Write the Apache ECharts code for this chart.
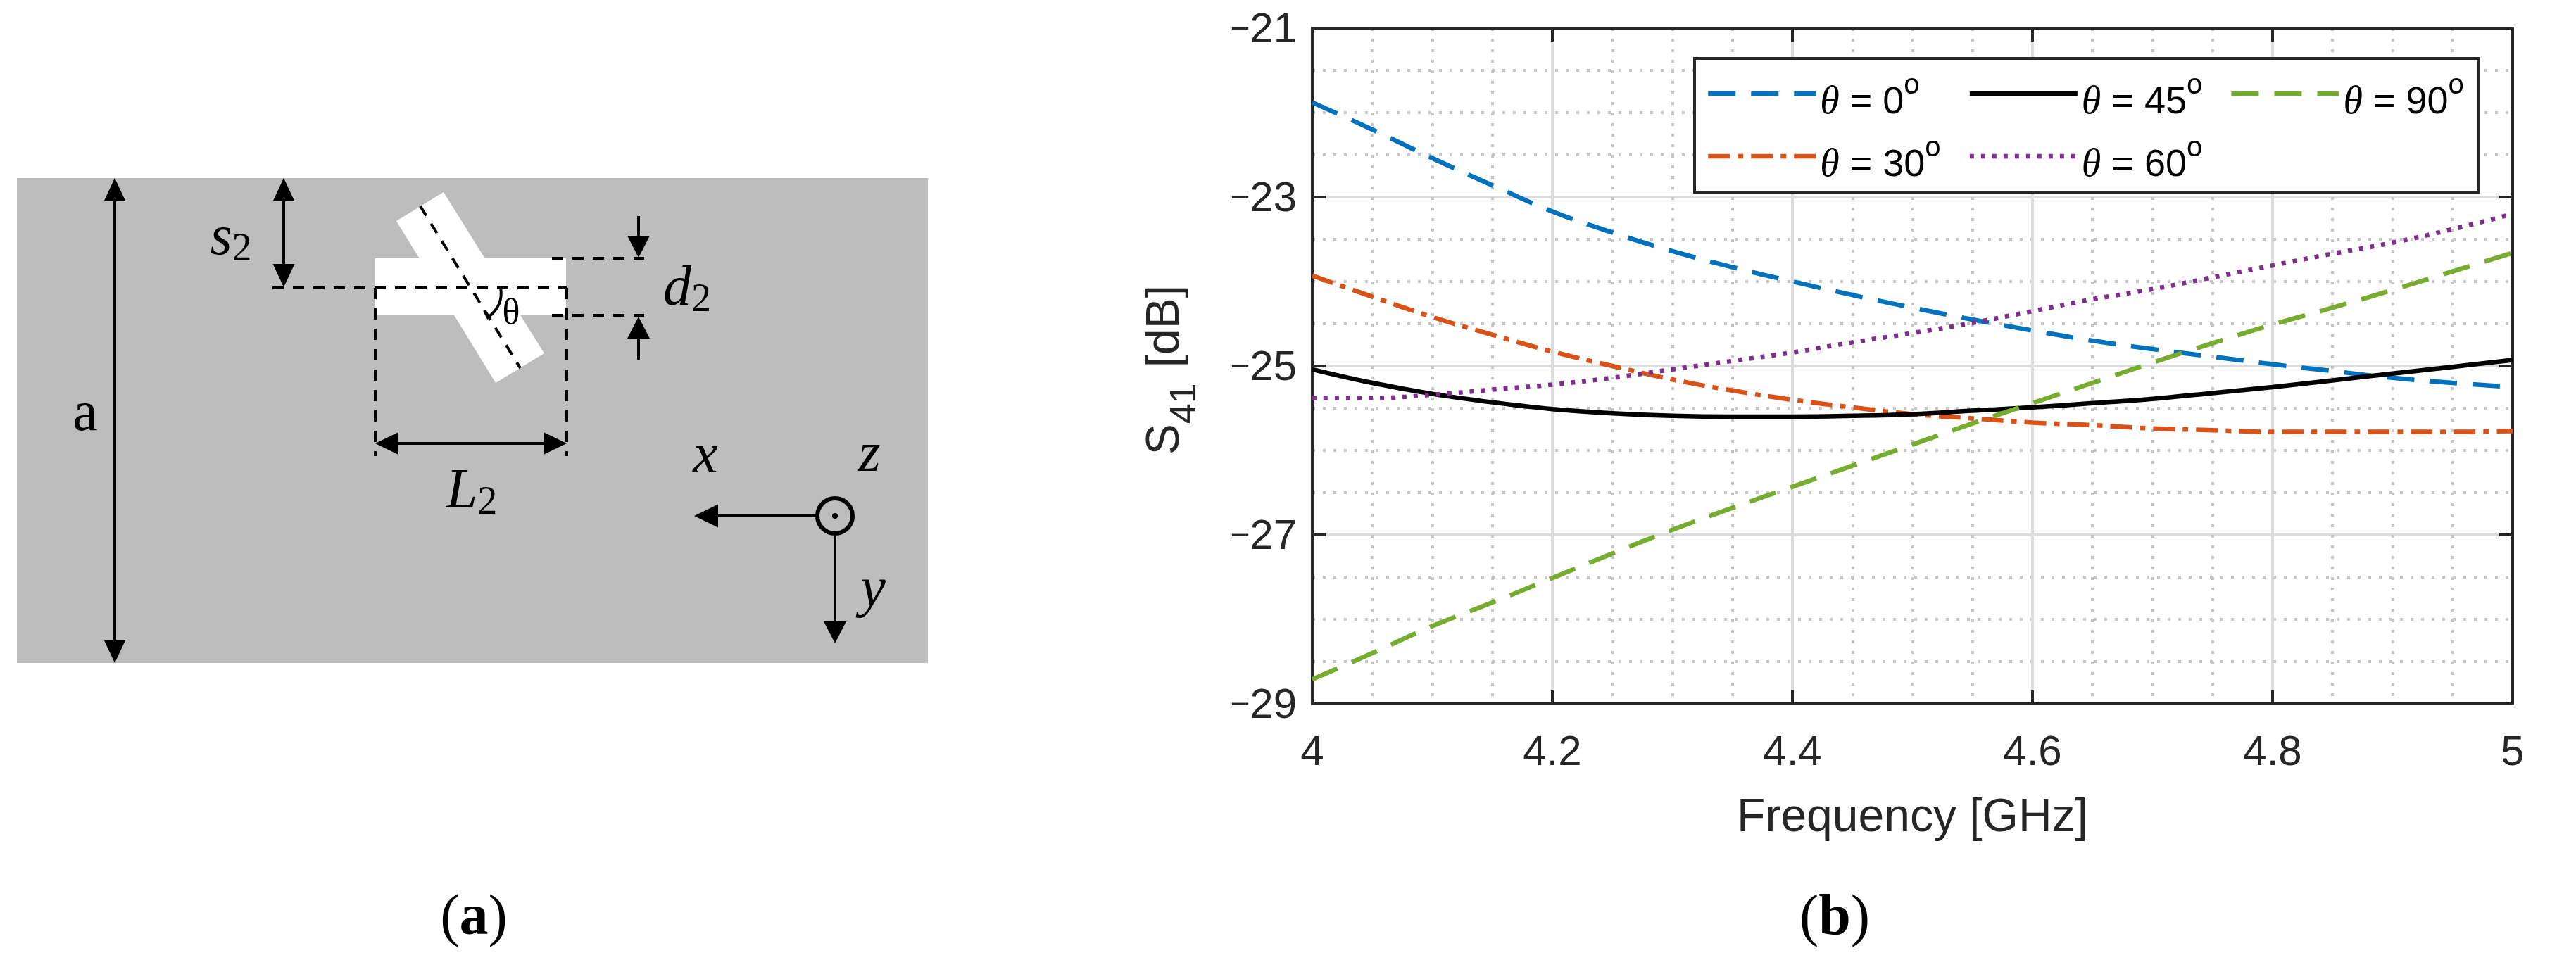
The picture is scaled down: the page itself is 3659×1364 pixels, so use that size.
<!DOCTYPE html>
<html><head><meta charset="utf-8">
<style>html,body{margin:0;padding:0;background:#fff;overflow:hidden}#c{width:3659px;height:1364px}</style>
<script src="https://cdn.jsdelivr.net/npm/echarts@6/dist/echarts.min.js"></script>
</head><body><div id="c"></div>
<script>
const frequency = [4,4.05,4.1,4.15,4.2,4.25,4.3,4.35,4.4,4.45,4.5,4.55,4.6,4.65,4.7,4.75,4.8,4.85,4.9,4.95,5];
const theta0  = [-21.88,-22.2,-22.54,-22.86,-23.17,-23.42,-23.64,-23.83,-24.0,-24.16,-24.31,-24.45,-24.58,-24.7,-24.8,-24.89,-24.98,-25.06,-25.14,-25.2,-25.25];
const theta30 = [-23.93,-24.18,-24.42,-24.63,-24.83,-25.0,-25.16,-25.29,-25.4,-25.49,-25.57,-25.62,-25.67,-25.7,-25.74,-25.76,-25.78,-25.78,-25.78,-25.78,-25.77];
const theta45 = [-25.04,-25.2,-25.33,-25.43,-25.51,-25.56,-25.59,-25.6,-25.6,-25.59,-25.57,-25.53,-25.49,-25.44,-25.39,-25.32,-25.25,-25.17,-25.09,-25.01,-24.93];
const theta60 = [-25.38,-25.38,-25.34,-25.28,-25.22,-25.14,-25.04,-24.94,-24.84,-24.72,-24.61,-24.49,-24.35,-24.21,-24.09,-23.95,-23.81,-23.67,-23.54,-23.38,-23.2];
const theta90 = [-28.71,-28.4,-28.08,-27.8,-27.51,-27.22,-26.94,-26.68,-26.43,-26.18,-25.93,-25.68,-25.44,-25.2,-24.96,-24.73,-24.51,-24.31,-24.1,-23.88,-23.66];
const yMajorTicks = [-29,-27,-25,-23,-21];
const yMinorTicks = [-28.5,-28,-27.5,-26.5,-26,-25.5,-24.5,-24,-23.5,-22.5,-22,-21.5];
const legendOrder = ['0','45','90','30','60'];

const DARK='#262626', SANS='"Liberation Sans"', SERIF='"Liberation Serif"';
const chart = echarts.init(document.getElementById('c'));
const pairs = v => frequency.map((f,i)=>[f,v[i]]);
const mk = (deg,vals,color,type,width) => ({
  name:'θ'+deg, type:'line', data:pairs(vals), smooth:0.4, symbol:'none', showSymbol:false,
  lineStyle:{color,type,width,cap:'butt'}, itemStyle:{color}, xAxisIndex:0, yAxisIndex:0, z:2, animation:false
});
const series = [
  mk('0',theta0,'#0072BD',[39,22],6.5),
  mk('30',theta30,'#D95319',[31,11,8,11],6.5),
  mk('45',theta45,'#000000','solid',6.5),
  mk('60',theta60,'#7E2F8E',[6,10],6.5),
  mk('90',theta90,'#77AC30',[39,22],6.5)
];
const BOX={color:DARK,width:4};
const tick={show:true,inside:true,length:19,lineStyle:{color:DARK,width:4}};
const major={show:true,lineStyle:{color:'#dcdcdc',width:4,type:'solid'}};
const dotted={color:'#c6c6c6',width:4,type:[4,11]};

// --- schematic helpers ---
const G=[];
const poly=(pts,fill)=>G.push({type:'polygon',shape:{points:pts},style:{fill}});
const line=(x1,y1,x2,y2,w,dash)=>G.push({type:'line',shape:{x1,y1,x2,y2},style:{stroke:'#000',lineWidth:w||4,lineDash:dash||null}});
const head=(tx,ty,dx,dy,len,wid)=>{
  const bx=tx-dx*len,by=ty-dy*len,hx=-dy*wid/2,hy=dx*wid/2;
  poly([[tx,ty],[bx+hx,by+hy],[bx-hx,by-hy]],'#000');
};
const txt=(x,y,text,style)=>G.push({type:'text',x,y,style:Object.assign({text,align:'center',verticalAlign:'middle',fill:'#000'},style)});
G.push({type:'rect',shape:{x:24,y:253,width:1294,height:689},style:{fill:'#bdbdbd'}});
poly([[630,273],[563,314],[704,544],[773,502]],'#fff');
G.push({type:'rect',shape:{x:533,y:367,width:271,height:81},style:{fill:'#fff'}});
const DASH=[16,13];
line(387,409,805,409,4,DASH);
line(533,409,533,648,4,DASH);
line(805,409,805,648,4,DASH);
line(784,367,915,367,4,DASH);
line(784,448,915,448,4,DASH);
line(597,293,739,523,4,[16,13]);
line(163,280,163,915,4); head(163,253,0,-1,33,31); head(163,942,0,1,33,31);
line(403,280,403,380,4); head(403,253,0,-1,33,31); head(403,408,0,1,33,31);
line(560,630,780,630,4); head(533,630,-1,0,33,32); head(805,630,1,0,33,32);
line(907,307,907,345,4); head(907,366,0,1,31,32);
line(907,511,907,470,4); head(907,450,0,-1,31,32);
G.push({type:'bezierCurve',shape:{x1:711,y1:409,cpx1:714,cpy1:425,x2:693,y2:451,cpx2:708,cpy2:440},style:{stroke:'#000',lineWidth:4,fill:null}});
line(688,441,694,453,4);
txt(726,446,'θ',{fontFamily:SERIF,fontSize:52});
G.push({type:'circle',shape:{cx:1186,cy:733,r:25},style:{stroke:'#000',lineWidth:6,fill:'none'}});
G.push({type:'circle',shape:{cx:1186,cy:733,r:4},style:{fill:'#000'}});
line(1158,733,1010,733,4); head(986,733,-1,0,34,33);
line(1186,761,1186,890,4); head(1186,914,0,1,31,32);
const mathRich={m:{fontFamily:SERIF,fontStyle:'italic',fontSize:80,fill:'#000'},s:{fontFamily:SERIF,fontSize:56,fill:'#000',padding:[30,0,0,0]}};
txt(328,340,'{m|s}{s|2}',{rich:mathRich});
txt(976,412,'{m|d}{s|2}',{rich:mathRich});
txt(670,700,'{m|L}{s|2}',{rich:mathRich});
txt(121,590,'a',{fontFamily:SERIF,fontSize:80});
txt(1002,650,'x',{fontFamily:SERIF,fontStyle:'italic',fontSize:80});
txt(1235,648,'z',{fontFamily:SERIF,fontStyle:'italic',fontSize:80});
txt(1240,840,'y',{fontFamily:SERIF,fontStyle:'italic',fontSize:80});
const capRich={r:{fontFamily:SERIF,fontSize:82,fill:'#000'},b:{fontFamily:SERIF,fontWeight:'bold',fontSize:82,fill:'#000'}};
txt(673,1306,'{r|(}{b|a}{r|)}',{rich:capRich});
txt(2606,1306,'{r|(}{b|b}{r|)}',{rich:capRich});

chart.setOption({
  animation:false, backgroundColor:'#fff',
  textStyle:{fontFamily:SANS},
  grid:{left:1864,top:40,width:1705,height:960,containLabel:false},
  xAxis:[
    {type:'value',position:'bottom',min:4,max:5,interval:0.2,
      name:'Frequency [GHz]',nameLocation:'middle',nameGap:130,nameTextStyle:{fontSize:66,color:DARK,fontFamily:SANS},
      axisLine:{show:true,onZero:false,lineStyle:BOX},axisTick:tick,
      axisLabel:{show:true,fontSize:60,color:DARK,margin:40,fontFamily:SANS,hideOverlap:false,showMinLabel:true,showMaxLabel:true},
      splitLine:major,minorTick:{show:false,splitNumber:4},minorSplitLine:{show:true,lineStyle:dotted}},
    {type:'value',position:'top',min:4,max:5,interval:0.2,
      axisLine:{show:true,onZero:false,lineStyle:BOX},axisTick:tick,axisLabel:{show:false},splitLine:{show:false}}
  ],
  yAxis:[
    {type:'value',position:'left',min:-29,max:-21,interval:0.5,
      name:'{a|S}{b|41}{c|  }{a|[dB]}{c| }',nameLocation:'middle',nameGap:154,
      nameTextStyle:{color:DARK,rich:{a:{fontSize:66,color:DARK,fontFamily:SANS},b:{fontSize:52,color:DARK,fontFamily:SANS,padding:[56,0,0,0]},c:{fontSize:40,fontFamily:SANS}}},
      axisLine:{show:true,onZero:false,lineStyle:BOX},
      axisTick:Object.assign({customValues:yMajorTicks},tick),
      axisLabel:{show:true,customValues:yMajorTicks,color:DARK,margin:22,padding:[6,0,0,0],
        formatter:v=>'{m|\u2212}{d|'+Math.abs(v)+'}',
        rich:{m:{fontSize:48,fontFamily:SANS,color:DARK},d:{fontSize:60,fontFamily:SANS,color:DARK}}},
      splitLine:major},
    {type:'value',position:'right',min:-29,max:-21,interval:0.5,
      axisLine:{show:true,onZero:false,lineStyle:BOX},
      axisTick:Object.assign({customValues:yMajorTicks},tick),
      axisLabel:{show:false},splitLine:{show:false}},
    {type:'value',position:'left',min:-29,max:-21,interval:0.5,
      axisLine:{show:false},
      axisTick:{show:false,customValues:yMinorTicks},axisLabel:{show:false},
      splitLine:{show:true,lineStyle:dotted}}
  ],
  legend:{
    orient:'horizontal',left:2407,top:83,width:1110,
    data:legendOrder.map(d=>'θ'+d),
    itemWidth:153,itemHeight:20,itemGap:0,
    padding:[5.5,21,6.5,16],
    backgroundColor:'#fff',borderColor:DARK,borderWidth:4,borderRadius:0,
    selectedMode:false,
    itemStyle:{opacity:0},
    lineStyle:{width:6.5},
    formatter:n=>{const d=n.slice(1);const p=d==='90'?'':(d.length===1?'{p1| }':'{p2| }');return '{g| }{th|θ}{t| = '+d+'}{u|o}'+p;},
    textStyle:{color:'#000',rich:{
      g:{width:1,height:89,backgroundColor:'#fff'},
      th:{fontFamily:SERIF,fontStyle:'italic',fontSize:56,color:'#000',padding:[26,0,0,0]},
      t:{fontFamily:SANS,fontSize:54,color:'#000',padding:[26,0,0,0]},
      u:{fontFamily:SANS,fontSize:40,color:'#000',padding:[0,0,22,0]},
      p1:{width:68,backgroundColor:'#fff'},
      p2:{width:38,backgroundColor:'#fff'}
    }}
  },
  series,
  graphic:{elements:G}
});
</script></body></html>
